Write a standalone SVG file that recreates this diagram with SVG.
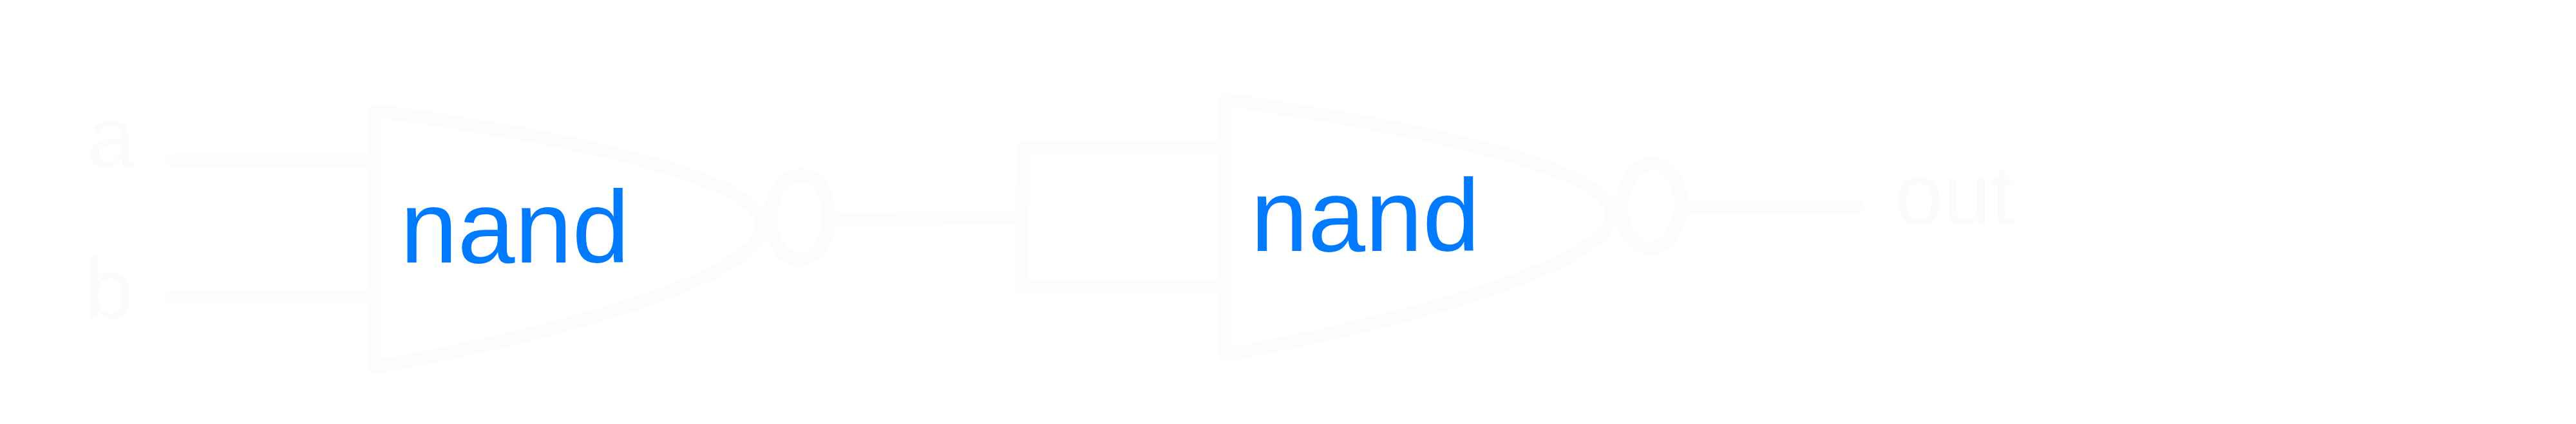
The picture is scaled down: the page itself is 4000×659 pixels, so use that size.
<svg xmlns="http://www.w3.org/2000/svg" width="4000" height="659" viewBox="0 0 4000 659">
<style>
.s{fill:none;stroke:#fcfcfc;stroke-width:21;stroke-linecap:round;stroke-linejoin:round}
.l{font-family:"Liberation Sans",Arial,sans-serif;font-size:134px;fill:#fbfbfb}
.g{font-family:"Liberation Sans",Arial,sans-serif;font-size:160px;fill:#007aff}
</style>
<rect width="4000" height="659" fill="#ffffff"/>
<g id="connectors">
<path class="s" d="M267 248.500H582"/>
<path class="s" d="M264 463H582"/>
<path class="s" d="M1298 341L1572 339"/>
<path class="s" d="M1903 230H1589L1586 445H1903"/>
<path class="s" d="M2620 323L2885 321"/>
</g>
<g id="input-a"><text class="l" x="135.500" y="260">a</text></g>
<g id="input-b"><text class="l" x="132" y="495">b</text></g>
<g id="nand1">
<path class="s" d="M582 172C900 215 1184 280 1184 350C1184 425 900 512 582 571Z"/>
<ellipse class="s" cx="1242" cy="338" rx="45.500" ry="66" transform="rotate(2 1242 338)"/>
<text class="g" x="621.500" y="408">nand</text>
</g>
<g id="nand2">
<path class="s" d="M1903 155C2220 200 2503 265 2503 332C2503 405 2220 492 1903 552Z"/>
<ellipse class="s" cx="2564" cy="320" rx="45.500" ry="66" transform="rotate(2 2564 320)"/>
<text class="g" x="1942" y="390">nand</text>
</g>
<g id="output"><text class="l" x="2942.500" y="349">out</text></g>
</svg>
